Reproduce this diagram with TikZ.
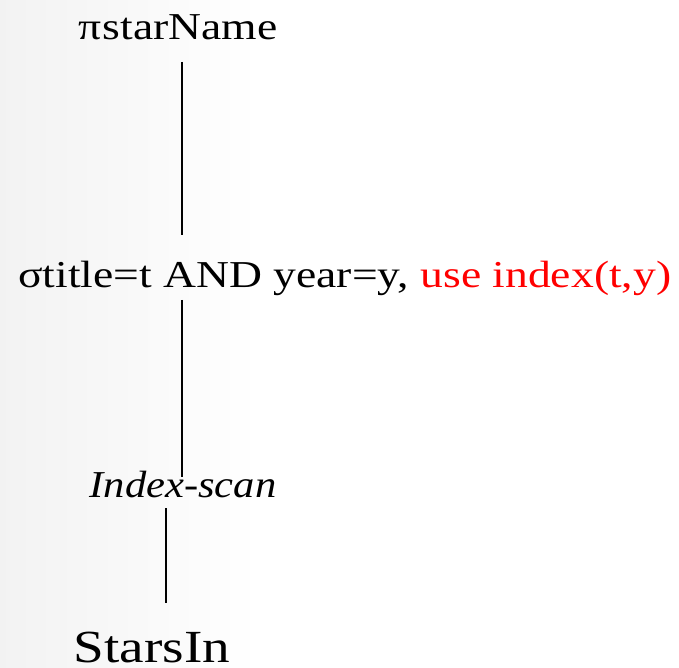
\documentclass[tikz,border=0pt]{standalone}
\usepackage{fontspec}
\setmainfont{Liberation Serif}[FakeStretch=1.2, ItalicFeatures={FakeStretch=1.12}]
\begin{document}
\begin{tikzpicture}[x=1pt,y=1pt,
  label text/.style={inner sep=0pt, font=\fontsize{38}{44}\selectfont},
  edge/.style={draw=black, line width=1.6pt}]
  % page and soft grey wash on the left
  \fill[white] (0,0) rectangle (679,667);
  \shade[left color=black!5, right color=white] (0,0) rectangle (260,667);
  \useasboundingbox (0,0) rectangle (679,667);

  % plan operators
  \node[label text, anchor=base] (proj) at (178,627) {π\kern1pt starName};
  \node[label text, anchor=base west] (sel) at (18,379)
    {σtitle=t AND year=y, \textcolor{red}{use index(t,y)}};
  \node[label text, anchor=base, font=\fontsize{38}{44}\selectfont\itshape] (scan) at (183,170) {Index-scan};
  \node[label text, anchor=base, font=\fontsize{46}{52}\selectfont] (rel) at (152,5) {StarsIn};

  % tree edges
  \draw[edge] ([shift={(4,-22)}]proj.base) -- ([shift={(4,53)}]proj.base |- sel.base);
  \draw[edge] ([shift={(4,-12)}]proj.base |- sel.base) -- ([shift={(4,20)}]proj.base |- scan.base);
  \draw[edge] ([shift={(-17,-11)}]scan.base) -- ([shift={(-17,59)}]scan.base |- rel.base);
\end{tikzpicture}
\end{document}
